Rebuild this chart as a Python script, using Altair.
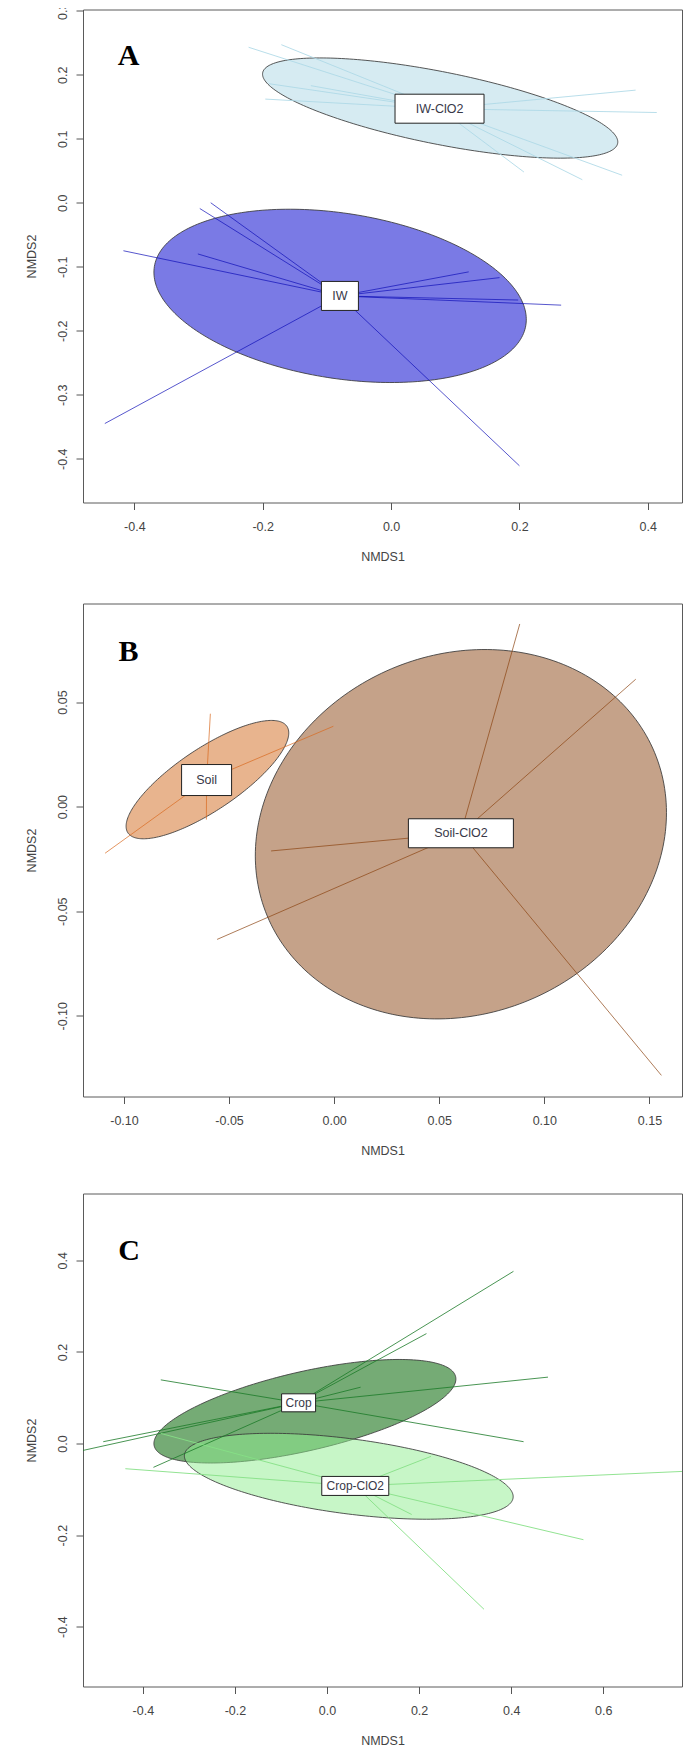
import altair as alt
import numpy as np
import pandas as pd

# ---------------- values ----------------
# Panel A
A_groups = ["IW", "IW-ClO2"]
A_cent_x = [-0.0797, 0.0755]
A_cent_y = [-0.1456, 0.1470]
A_ell_cx = [-0.0794, 0.0765]
A_ell_cy = [-0.1455, 0.1480]
A_ell_a = [0.293, 0.282]
A_ell_b = [0.129, 0.0566]
A_ell_deg = [-9.0, -11.3]
A_pts_x = [
    [-0.417, -0.301, -0.281, -0.298, 0.121, 0.169, 0.198, 0.265, -0.446, 0.200],
    [-0.222, -0.171, -0.190, -0.125, -0.196, 0.381, 0.414, 0.207, 0.298, 0.360],
]
A_pts_y = [
    [-0.075, -0.080, 0.000, -0.009, -0.108, -0.117, -0.152, -0.160, -0.345, -0.411],
    [0.243, 0.247, 0.186, 0.183, 0.162, 0.176, 0.141, 0.048, 0.036, 0.043],
]
A_xticks = [-0.4, -0.2, 0.0, 0.2, 0.4]
A_yticks = [-0.4, -0.3, -0.2, -0.1, 0.0, 0.1, 0.2, 0.3]
A_xdomain = [-0.480, 0.4533]
A_ydomain = [-0.4684, 0.302]

# Panel B
B_groups = ["Soil", "Soil-ClO2"]
B_cent_x = [-0.0607, 0.0603]
B_cent_y = [0.0127, -0.01275]
B_ell_cx = [-0.0603, 0.0603]
B_ell_cy = [0.0129, -0.0132]
B_ell_a = [0.0456, 0.1001]
B_ell_b = [0.0148, 0.0857]
B_ell_deg = [34.0, 24.3]
B_pts_x = [
    [-0.0589, -0.0608, -0.1090, -0.0004],
    [0.0883, 0.1435, -0.0300, -0.0557, 0.1557],
]
B_pts_y = [
    [0.0444, -0.0062, -0.0223, 0.0384],
    [0.0873, 0.0609, -0.0212, -0.0635, -0.1285],
]
B_xticks = [-0.10, -0.05, 0.00, 0.05, 0.10, 0.15]
B_yticks = [-0.10, -0.05, 0.00, 0.05]
B_xdomain = [-0.1195, 0.1655]
B_ydomain = [-0.1386, 0.0971]

# Panel C
C_groups = ["Crop", "Crop-ClO2"]
C_cent_x = [-0.0617, 0.0614]
C_cent_y = [0.0889, -0.0926]
C_ell_cx = [-0.048, 0.0473]
C_ell_cy = [0.0705, -0.0715]
C_ell_a = [0.336, 0.360]
C_ell_b = [0.0863, 0.0819]
C_ell_deg = [13.0, -7.5]
C_pts_x = [
    [0.405, 0.216, 0.073, 0.480, -0.361, 0.427, -0.486, -0.800, -0.377],
    [-0.438, 0.950, 0.557, 0.341, 0.184, 0.226, -0.361],
]
C_pts_y = [
    [0.376, 0.240, 0.123, 0.145, 0.139, 0.004, 0.004, -0.075, -0.052],
    [-0.055, -0.053, -0.210, -0.362, -0.155, -0.028, 0.022],
]
C_xticks = [-0.4, -0.2, 0.0, 0.2, 0.4, 0.6]
C_yticks = [-0.4, -0.2, 0.0, 0.2, 0.4]
C_xdomain = [-0.530, 0.7711]
C_ydomain = [-0.5306, 0.546]

# ---------------- styling ----------------
FONT = "Liberation Sans, Arial, sans-serif"
NARROW = "Liberation Sans Narrow, Arial Narrow, Liberation Sans, sans-serif"
W, H = 599, 493


def ellipse_df(cx, cy, a, b, deg, n=240):
    t = np.linspace(0, 2 * np.pi, n + 1)
    th = np.deg2rad(deg)
    x = cx + a * np.cos(t) * np.cos(th) - b * np.sin(t) * np.sin(th)
    y = cy + a * np.cos(t) * np.sin(th) + b * np.sin(t) * np.cos(th)
    return pd.DataFrame({"x": x, "y": y, "i": np.arange(n + 1)})


def make_panel(groups, cent_x, cent_y, ecx, ecy, ea, eb, edeg, pts_x, pts_y,
               xdomain, ydomain, xticks, yticks, fmt, styles, letter, letter_pos):
    xs = alt.Scale(domain=xdomain, nice=False, zero=False)
    ys = alt.Scale(domain=ydomain, nice=False, zero=False)
    xaxis = alt.Axis(
        values=xticks, title="NMDS1", grid=False, domain=False,
        tickSize=7, tickColor="#555", tickWidth=1,
        format=fmt,
        labelFont=FONT, labelFontSize=12.5, labelColor="#444", labelPadding=11,
        labelOverlap=False, labelFlush=False,
        titleFont=FONT, titleFontSize=12.5, titleFontWeight="normal", titleColor="#444",
        titlePadding=17,
    )
    yaxis = alt.Axis(
        values=yticks, title="NMDS2", grid=False, domain=False,
        tickSize=7, tickColor="#555", tickWidth=1,
        format=fmt,
        labelAngle=270, labelAlign="center", labelBaseline="alphabetic",
        labelFont=FONT, labelFontSize=12.5, labelColor="#444", labelPadding=10,
        labelOverlap=False, labelFlush=False,
        titleFont=FONT, titleFontSize=12.5, titleFontWeight="normal", titleColor="#444",
        titlePadding=17.5,
    )
    layers = []
    # ellipses
    for k, g in enumerate(groups):
        st = styles[g]
        edf = ellipse_df(ecx[k], ecy[k], ea[k], eb[k], edeg[k])
        layers.append(
            alt.Chart(edf).mark_line(
                fill=st["fill"], fillOpacity=st["fo"], stroke="#3a3a3a",
                strokeWidth=1, strokeOpacity=0.85, clip=True,
            ).encode(
                x=alt.X("x:Q", scale=xs, axis=xaxis),
                y=alt.Y("y:Q", scale=ys, axis=yaxis),
                order="i:Q",
            )
        )
    # spiders
    for k, g in enumerate(groups):
        st = styles[g]
        sdf = pd.DataFrame({
            "cx": [cent_x[k]] * len(pts_x[k]), "cy": [cent_y[k]] * len(pts_x[k]),
            "px": pts_x[k], "py": pts_y[k],
        })
        layers.append(
            alt.Chart(sdf).mark_rule(
                color=st["line"], opacity=st["lo"], strokeWidth=1, clip=True
            ).encode(
                x=alt.X("cx:Q", scale=xs, axis=xaxis),
                y=alt.Y("cy:Q", scale=ys, axis=yaxis),
                x2="px:Q", y2="py:Q",
            )
        )
    # label boxes
    for k, g in enumerate(groups):
        st = styles[g]
        bdf = pd.DataFrame({"x": [cent_x[k]], "y": [cent_y[k]], "label": [g]})
        bw, bh = st["box"]
        layers.append(
            alt.Chart(bdf).mark_rect(
                fill="white", stroke="#222", strokeWidth=1,
                xOffset=-bw / 2, x2Offset=bw / 2, yOffset=-bh / 2, y2Offset=bh / 2,
            ).encode(
                x=alt.X("x:Q", scale=xs, axis=xaxis), x2="x:Q",
                y=alt.Y("y:Q", scale=ys, axis=yaxis), y2="y:Q",
            )
        )
        layers.append(
            alt.Chart(bdf).mark_text(
                font=NARROW, fontSize=st["fs"], color="#383848",
                align="center", baseline="middle",
            ).encode(
                x=alt.X("x:Q", scale=xs, axis=xaxis),
                y=alt.Y("y:Q", scale=ys, axis=yaxis),
                text="label:N",
            )
        )
    layers.append(
        alt.Chart(pd.DataFrame({"t": [letter]})).mark_text(
            font="Liberation Serif, Times New Roman, serif", fontWeight="bold",
            fontSize=30, color="black", align="center", baseline="middle",
        ).encode(text="t:N", x=alt.value(letter_pos[0]), y=alt.value(letter_pos[1]))
    )
    return alt.layer(*layers).properties(width=W, height=H)


styles = {
    "IW": dict(fill="#0000cd", fo=0.52, line="#1010b8", lo=0.7, box=(37, 29), fs=12.5),
    "IW-ClO2": dict(fill="#add8e6", fo=0.5, line="#add8e6", lo=0.85, box=(89, 29), fs=12.5),
    "Soil": dict(fill="#d2691e", fo=0.5, line="#d86a20", lo=0.7, box=(50, 31), fs=12.5),
    "Soil-ClO2": dict(fill="#8b4513", fo=0.5, line="#8b4513", lo=0.7, box=(105, 29), fs=12.5),
    "Crop": dict(fill="#006400", fo=0.54, line="#1c7a28", lo=0.8, box=(34, 18), fs=12),
    "Crop-ClO2": dict(fill="#90ee90", fo=0.5, line="#86e086", lo=0.9, box=(67, 19), fs=12),
}

pA = make_panel(A_groups, A_cent_x, A_cent_y, A_ell_cx, A_ell_cy, A_ell_a, A_ell_b, A_ell_deg,
                A_pts_x, A_pts_y, A_xdomain, A_ydomain, A_xticks, A_yticks, ".1f",
                styles, "A", (45.5, 46))
pB = make_panel(B_groups, B_cent_x, B_cent_y, B_ell_cx, B_ell_cy, B_ell_a, B_ell_b, B_ell_deg,
                B_pts_x, B_pts_y, B_xdomain, B_ydomain, B_xticks, B_yticks, ".2f",
                styles, "B", (45.5, 48))
pC = make_panel(C_groups, C_cent_x, C_cent_y, C_ell_cx, C_ell_cy, C_ell_a, C_ell_b, C_ell_deg,
                C_pts_x, C_pts_y, C_xdomain, C_ydomain, C_xticks, C_yticks, ".1f",
                styles, "C", (46, 57))

lower = alt.vconcat(pB, pC, spacing=35)
chart = alt.vconcat(pA, lower, spacing=39).properties(
    padding={"left": 16, "top": -6.5, "right": 5, "bottom": 2}
).configure(
    locale={"number": {"decimal": ".", "thousands": ",", "grouping": [3],
                       "currency": ["", ""], "minus": "-"}}
).configure_view(stroke="#5a5a5a", strokeWidth=1)

chart.save("out.html", embed_options={"renderer": "svg", "actions": False})
